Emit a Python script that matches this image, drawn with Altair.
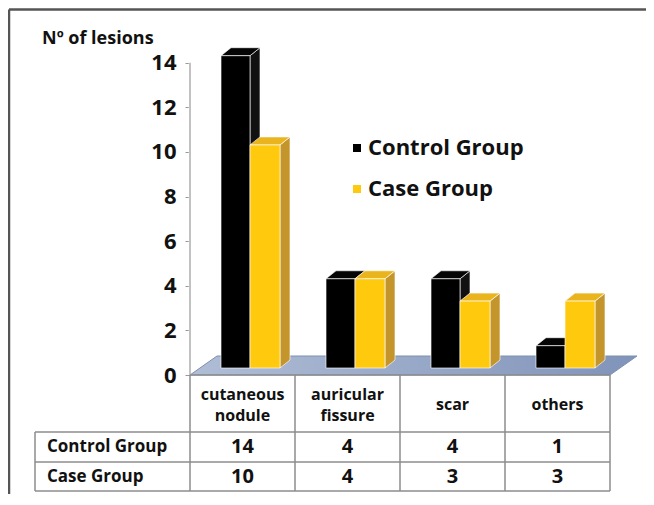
import altair as alt
import pandas as pd

# ---------------- data ----------------
categories = ["cutaneous nodule", "auricular fissure", "scar", "others"]
category_labels = ["cutaneous\nnodule", "auricular\nfissure", "scar", "others"]
groups = ["Control Group", "Case Group"]
control_values = [14, 4, 4, 1]
case_values = [10, 4, 3, 3]
y_ticks = [0, 2, 4, 6, 8, 10, 12, 14]
y_title = "Nº of lesions"

# ---------------- geometry / style constants ----------------
PXU = 22.307                      # pixels per value unit
def yu(p):                        # page-pixel y -> value units
    return (375 - p) / PXU
def xu(p):                        # page-pixel x -> x units
    return p - 190

COL_W = 105
N_COL = len(categories)
BAR_OFF = [31, 60]
BAR_W = [29, 30]
DX = 10
DY = 8 / PXU
BASE = 7 / PXU
FONT = "Open Sans"
PLOT_TOP, PLOT_BOTTOM = 40, 492
PLOT_W = 450
HDR_CENTER, HDR_LINE = 405, 21

fills = {
    "Control Group": {"front": "#000000", "side": "#111111", "top": "#050505"},
    "Case Group": {"front": "#FFC90E", "side": "#C4952B", "top": "#EAB41E"},
}

series = {"Control Group": control_values, "Case Group": case_values}

front_rows, side_rows, top_rows = [], [], []
for gi, g in enumerate(groups):
    for ci, cat in enumerate(categories):
        v = series[g][ci]
        x0 = ci * COL_W + BAR_OFF[gi]
        x1 = x0 + BAR_W[gi]
        fid = f"{g}-{cat}"
        front_rows.append(dict(id=fid, group=g, cat=cat, value=v,
                               x=x0, x2=x1, y=BASE, y2=BASE + v))
        side_rows += [
            dict(id=fid, group=g, fill=fills[g]["side"], x=x1, y=BASE, y2=BASE + v),
            dict(id=fid, group=g, fill=fills[g]["side"], x=x1 + DX, y=BASE + DY, y2=BASE + v + DY),
        ]
        top_rows += [
            dict(id=fid, group=g, fill=fills[g]["top"], y=BASE + v, x=x0, x2=x1),
            dict(id=fid, group=g, fill=fills[g]["top"], y=BASE + v + DY, x=x0 + DX, x2=x1 + DX),
        ]
front_df = pd.DataFrame(front_rows)
side_df = pd.DataFrame(side_rows)
top_df = pd.DataFrame(top_rows)

xs = alt.Scale(domain=[0, PLOT_W], nice=False, zero=False)
ys = alt.Scale(domain=[yu(PLOT_BOTTOM), yu(PLOT_TOP)], nice=False, zero=False)

yaxis = alt.Axis(values=y_ticks, domain=False, grid=False,
                 tickSize=5, tickColor="#999999", tickWidth=1,
                 labelPadding=9, labelFont=FONT, labelFontSize=22,
                 labelFontWeight="bold", labelColor="#111111",
                 title=None)

X = lambda f: alt.X(f, type="quantitative", scale=xs, axis=None)
Y = lambda f: alt.Y(f, type="quantitative", scale=ys, axis=yaxis)

# ---------------- hide any view outline (white cover) ----------------
cover_df = pd.DataFrame([
    dict(x=0, x2=PLOT_W, y=yu(PLOT_TOP), y2=yu(PLOT_TOP)),
    dict(x=PLOT_W, x2=PLOT_W, y=yu(PLOT_TOP), y2=yu(PLOT_BOTTOM)),
    dict(x=0, x2=0, y=yu(PLOT_TOP), y2=0),
    dict(x=0, x2=PLOT_W, y=yu(PLOT_BOTTOM), y2=yu(PLOT_BOTTOM)),
])
cover = alt.Chart(cover_df).mark_rule(color="white", strokeWidth=2.5).encode(
    x=X("x"), x2="x2", y=Y("y"), y2="y2")

# ---------------- frame ----------------
frame_df = pd.DataFrame([
    dict(x=xu(9), x2=xu(650), y=yu(9.5), y2=yu(9.5)),
    dict(x=xu(9), x2=xu(9), y=yu(9.5), y2=yu(500)),
])
frame = alt.Chart(frame_df).mark_rule(color="#555555", strokeWidth=2.5).encode(
    x=X("x"), x2="x2", y=Y("y"), y2="y2")

# ---------------- floor ----------------
floor_df = pd.DataFrame([
    dict(y=0.0, x=0, x2=N_COL * COL_W),
    dict(y=yu(356), x=27, x2=N_COL * COL_W + 27),
])
floor = alt.Chart(floor_df).mark_area(
    orient="horizontal",
    color=alt.Gradient(gradient="linear",
                       stops=[alt.GradientStop(color="#B0BDD5", offset=0),
                              alt.GradientStop(color="#8093BA", offset=1)],
                       x1=0, x2=1, y1=0, y2=0),
    stroke="#7F90AE", strokeWidth=1,
).encode(y=Y("y"), x=X("x"), x2="x2")

# ---------------- y axis ----------------
axis_line = alt.Chart(pd.DataFrame([dict(y=0, y2=max(y_ticks))])).mark_rule(
    color="#999999", strokeWidth=1.2).encode(
    x=alt.value(0), y=Y("y"), y2="y2")

title = alt.Chart(pd.DataFrame([dict(t=y_title, x=xu(42), y=yu(39))])).mark_text(
    font=FONT, fontSize=18, fontWeight="bold", align="left", baseline="middle",
    color="#111111").encode(x=X("x"), y=Y("y"), text="t:N")

# ---------------- table ----------------
col_edges = [i * COL_W for i in range(N_COL + 1)]
row_lines = [yu(432), yu(462), yu(491)]
tbl_rows = [dict(x=0, x2=col_edges[-1], y=0, y2=0)]
for r in row_lines:
    tbl_rows.append(dict(x=xu(35), x2=col_edges[-1], y=r, y2=r))
for e in col_edges:
    tbl_rows.append(dict(x=e, x2=e, y=0, y2=row_lines[-1]))
tbl_rows.append(dict(x=xu(35), x2=xu(35), y=row_lines[0], y2=row_lines[-1]))
table_lines = alt.Chart(pd.DataFrame(tbl_rows)).mark_rule(
    color="#8C8C8C", strokeWidth=1.5).encode(x=X("x"), x2="x2", y=Y("y"), y2="y2")

hdr_rows = []
for ci, lab in enumerate(category_labels):
    n_lines = lab.count("\n") + 1
    first_line_y = HDR_CENTER - (n_lines - 1) * HDR_LINE / 2
    hdr_rows.append(dict(t=lab, x=ci * COL_W + COL_W / 2, y=yu(first_line_y)))
headers = alt.Chart(pd.DataFrame(hdr_rows)).mark_text(
    font=FONT, fontSize=16, fontWeight="bold", align="center", baseline="middle",
    lineBreak="\n", lineHeight=HDR_LINE, color="#111111").encode(
    x=X("x"), y=Y("y"), text="t:N")

row_y = {"Control Group": yu(447), "Case Group": yu(477)}
val_rows = []
for g in groups:
    for ci, v in enumerate(series[g]):
        val_rows.append(dict(t=str(v), x=ci * COL_W + COL_W / 2, y=row_y[g]))
values_txt = alt.Chart(pd.DataFrame(val_rows)).mark_text(
    font=FONT, fontSize=20, fontWeight="bold", align="center", baseline="middle",
    color="#111111").encode(x=X("x"), y=Y("y"), text="t:N")

rl_rows = [dict(t=g, x=xu(47), y=row_y[g]) for g in groups]
row_labels = alt.Chart(pd.DataFrame(rl_rows)).mark_text(
    font=FONT, fontSize=17, fontWeight="bold", align="left", baseline="middle",
    color="#111111").encode(x=X("x"), y=Y("y"), text="t:N")

# ---------------- bars ----------------
color_scale = alt.Scale(domain=groups, range=[fills[g]["front"] for g in groups])

def bar_layers(g, legend):
    s = alt.Chart(side_df[side_df.group == g]).mark_area(
        stroke="white", strokeWidth=0.8, strokeOpacity=0.8).encode(
        x=X("x"), y=Y("y"), y2="y2", detail="id:N",
        color=alt.Color("fill:N", scale=None))
    t = alt.Chart(top_df[top_df.group == g]).mark_area(
        orient="horizontal", stroke="white", strokeWidth=0.8, strokeOpacity=0.8).encode(
        y=Y("y"), x=X("x"), x2="x2", detail="id:N",
        color=alt.Color("fill:N", scale=None))
    f = alt.Chart(front_df[front_df.group == g]).mark_rect(
        stroke="white", strokeWidth=0.8, strokeOpacity=0.8).encode(
        x=X("x"), x2="x2", y=Y("y"), y2="y2",
        color=alt.Color("group:N", scale=color_scale, legend=legend))
    return [s, t, f]

legend = alt.Legend(title=None, orient="none", legendX=xu(346), legendY=97,
                    symbolType="square", symbolSize=64, symbolStrokeWidth=0,
                    labelFont=FONT, labelFontSize=22, labelFontWeight="bold",
                    labelColor="#111111", labelOffset=0, rowPadding=19, padding=0)

layers = [cover, frame, floor, table_lines, axis_line, title]
layers += bar_layers("Control Group", legend)
layers += bar_layers("Case Group", legend)
layers += [headers, values_txt, row_labels]

chart = alt.layer(*layers).properties(
    width=PLOT_W, height=PLOT_BOTTOM - PLOT_TOP,
    padding={"left": 182, "top": 32, "right": 6, "bottom": 2},
    autosize=alt.AutoSizeParams(type="none"),
    view=alt.ViewBackground(stroke="transparent", strokeWidth=0, strokeOpacity=0),
).configure(
    background="white",
    view=alt.ViewConfig(stroke="transparent", strokeWidth=0, strokeOpacity=0),
    style={"cell": {"stroke": "transparent", "strokeWidth": 0}},
)

chart.save("out.html", embed_options={"renderer": "svg", "actions": False})
